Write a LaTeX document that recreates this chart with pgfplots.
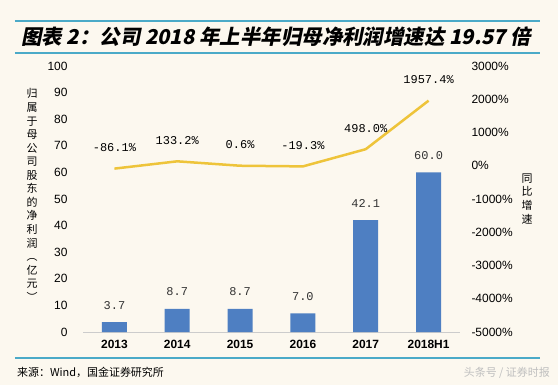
\documentclass[border=0pt]{standalone}
\usepackage{pgfplots}
\pgfplotsset{compat=1.18}
\usepackage{fontspec}
\setmainfont{Liberation Sans}
\newfontfamily\cjk{Noto Sans CJK SC}
\newfontfamily\cjktitle{Noto Sans CJK SC}[FakeSlant=0.2]
\newfontfamily\monof{Liberation Mono}
\definecolor{bg}{HTML}{FCF8EF}
\definecolor{teal}{HTML}{4BAAC8}
\definecolor{barblue}{HTML}{4E7FC2}
\definecolor{gold}{HTML}{EEC43A}
\begin{document}
\begin{tikzpicture}[x=1bp,y=1bp]
\begin{scope}[shift={(-83bp,-53bp)}]
\fill[bg] (0,0) rectangle (558,385);
\draw[teal, line width=2bp] (15,364) -- (540,364);
\draw[teal, line width=2bp] (15,332.5) -- (540,332.5);
\draw[teal, line width=2bp] (15,27) -- (540,27);
\node[anchor=west, inner sep=0, font=\fontsize{20.5}{22}\selectfont\cjktitle\bfseries] at (21,348) {图表 2：公司 2018 年上半年归母净利润增速达 19.57 倍};
\node[anchor=west, inner sep=0, font=\fontsize{11}{13}\selectfont\cjk] at (17,13) {来源：Wind，国金证券研究所};
\node[anchor=east, inner sep=0, text=black!25, font=\fontsize{11}{13}\selectfont\cjk] at (550,12) {头条号 / 证券时报};
\node[align=center, inner sep=0, font=\fontsize{11}{13.6}\selectfont\cjk] at (32,190) {归\\属\\于\\母\\公\\司\\股\\东\\的\\净\\利\\润\\︵\\亿\\元\\︶};
\node[align=center, inner sep=0, font=\fontsize{11}{14}\selectfont\cjk] at (527,186) {同\\比\\增\\速};
\end{scope}
\begin{axis}[
  scale only axis, width=377bp, height=266bp,
  xmin=-0.5, xmax=5.5, ymin=0, ymax=100,
  xtick={0,1,2,3,4,5},
  xticklabels={2013,2014,2015,2016,2017,2018H1},
  ytick={0,10,...,100},
  major tick length=0,
  axis x line*=bottom, axis y line*=left,
  x axis line style={draw=black!20, line width=1bp},
  y axis line style={draw=none},
  xticklabel style={font=\fontsize{12}{14}\selectfont\bfseries, yshift=-5bp},
  yticklabel style={font=\fontsize{12}{14}\selectfont, xshift=-12bp},
  /pgf/number format/assume math mode=true,
  clip=false,
]
\addplot[ybar, bar width=25bp, fill=barblue, draw=none,
  point meta=explicit symbolic,
  nodes near coords,
  nodes near coords style={font=\fontsize{12}{14}\selectfont\monof, text=black!80, anchor=center, yshift=17bp}]
coordinates {(0,3.7) [3.7] (1,8.7) [8.7] (2,8.7) [8.7] (3,7.0) [7.0] (4,42.1) [42.1] (5,60.0) [60.0]};
\end{axis}
\begin{axis}[
  scale only axis, width=377bp, height=266bp,
  xmin=-0.5, xmax=5.5, ymin=-5000, ymax=3000,
  ytick={-5000,-4000,...,3000},
  major tick length=0,
  axis x line=none,
  axis y line*=right,
  y axis line style={draw=none},
  yticklabel={\pgfmathprintnumber{\tick}\%},
  /pgf/number format/1000 sep={},
  /pgf/number format/assume math mode=true,
  yticklabel style={font=\fontsize{12}{14}\selectfont, xshift=8bp},
  clip=false,
]
\addplot[gold, line width=2.5bp,
  point meta=explicit symbolic,
  nodes near coords,
  nodes near coords style={font=\fontsize{12}{14}\selectfont\monof, text=black, anchor=center, yshift=21bp}]
coordinates {(0,-86.1) [-86.1\%] (1,133.2) [133.2\%] (2,0.6) [0.6\%] (3,-19.3) [-19.3\%] (4,498.0) [498.0\%] (5,1957.4) [1957.4\%]};
\end{axis}
\pgfresetboundingbox
\path (-83bp,-53bp) rectangle (475bp,332bp);
\end{tikzpicture}
\end{document}
